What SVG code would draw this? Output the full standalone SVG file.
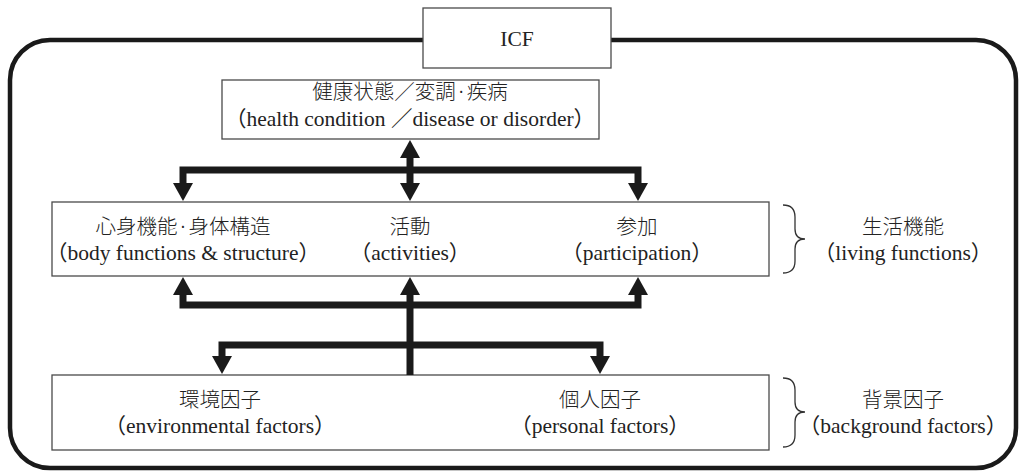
<svg xmlns="http://www.w3.org/2000/svg" width="1021" height="471" viewBox="0 0 1021 471">
<style>
.box{fill:#fff;stroke:#4a4a4a;stroke-width:1.3}
.t{font-family:"Liberation Serif","Noto Sans CJK JP",serif;font-size:21.5px;fill:#222;text-anchor:middle}
.j{font-family:"Noto Sans CJK JP","Liberation Serif",sans-serif;font-size:20.5px;font-weight:300;fill:#222;text-anchor:middle}
.c{fill:none;stroke:#1a1a1a;stroke-width:7;stroke-linejoin:miter}
.brace{fill:none;stroke:#333;stroke-width:1.3}
</style>
<defs>
<marker id="ah" viewBox="0 0 18 20" markerWidth="18" markerHeight="20" markerUnits="userSpaceOnUse" refX="1" refY="10" orient="auto-start-reverse">
<path d="M0,0 L18,10 L0,20 z" fill="#1a1a1a"/>
</marker>
</defs>
<rect x="10" y="40" width="1006" height="428" rx="40" ry="40" fill="none" stroke="#1a1a1a" stroke-width="4.5"/>
<g id="icf">
<rect class="box" x="423" y="8" width="188" height="60"/>
<text class="t" x="517" y="46">ICF</text>
</g>
<g id="health">
<rect class="box" x="222" y="80" width="377" height="59"/>
<text class="j" x="410" y="99">健康状態／変調·疾病</text>
<text class="t" x="410" y="126">（health condition ／disease or disorder）</text>
</g>
<g id="functions">
<rect class="box" x="52" y="202" width="717" height="74"/>
<text class="j" x="183" y="234">心身機能·身体構造</text>
<text class="t" x="183" y="260">（body functions &amp; structure）</text>
<text class="j" x="410" y="234">活動</text>
<text class="t" x="410" y="260">（activities）</text>
<text class="j" x="637" y="234">参加</text>
<text class="t" x="637" y="260">（participation）</text>
</g>
<g id="living">
<path class="brace" d="M783,205 Q795,205 795,217 V229 Q795,239 805,239 Q795,239 795,249 V261 Q795,273 783,273"/>
<text class="j" x="903" y="234">生活機能</text>
<text class="t" x="903" y="260">（living functions）</text>
</g>
<g id="factors">
<rect class="box" x="52" y="375" width="717" height="75"/>
<text class="j" x="220" y="407">環境因子</text>
<text class="t" x="220" y="433">（environmental factors）</text>
<text class="j" x="600" y="407">個人因子</text>
<text class="t" x="600" y="433">（personal factors）</text>
</g>
<g id="background">
<path class="brace" d="M783,378 Q795,378 795,390 V402 Q795,412 805,412 Q795,412 795,422 V435 Q795,447 783,447"/>
<text class="j" x="903" y="407">背景因子</text>
<text class="t" x="903" y="433">（background factors）</text>
</g>
<g id="connectors">
<path class="c" d="M183,184 V170 H638 V184" marker-start="url(#ah)" marker-end="url(#ah)"/>
<path class="c" d="M410,157 V184" marker-start="url(#ah)" marker-end="url(#ah)"/>
<path class="c" d="M183,294 V305 H638 V294" marker-start="url(#ah)" marker-end="url(#ah)"/>
<path class="c" d="M410,375 V294" marker-end="url(#ah)"/>
<path class="c" d="M222,357 V345 H600 V357" marker-start="url(#ah)" marker-end="url(#ah)"/>
</g>
</svg>
